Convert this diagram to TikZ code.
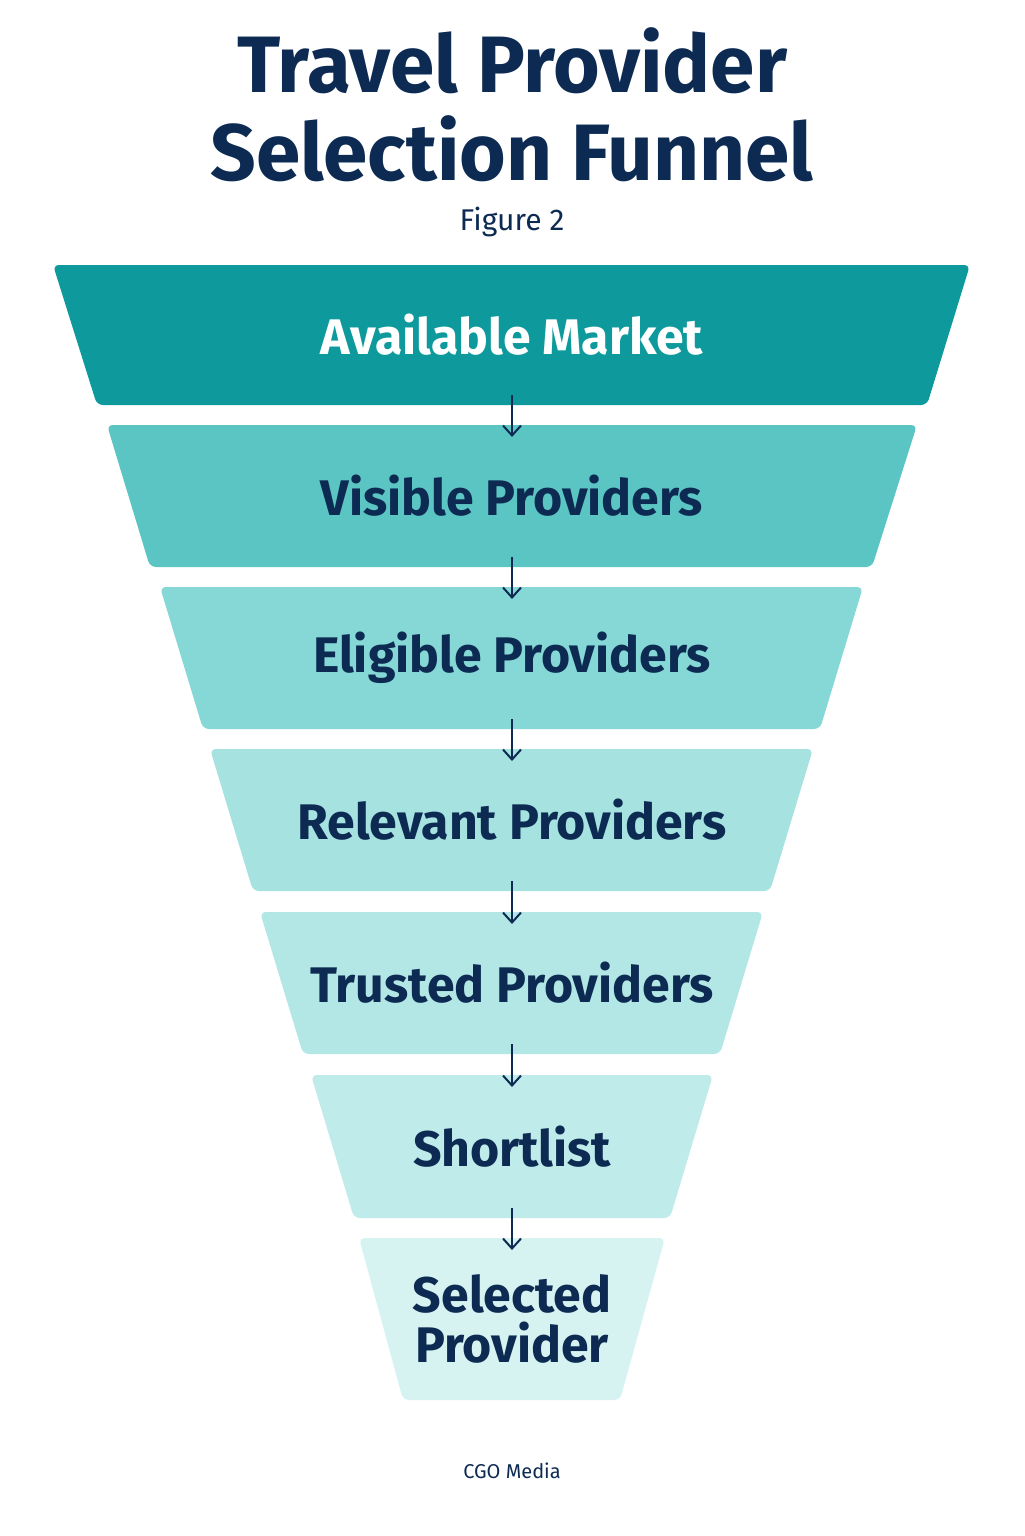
\documentclass[tikz,border=0pt]{standalone}
\usepackage{fontspec}
\setmainfont{Fira Sans}
\usetikzlibrary{arrows.meta}
\definecolor{navy}{HTML}{0D2B52}
\definecolor{tierA}{HTML}{0E9A9C}
\definecolor{tierB}{HTML}{5BC5C3}
\definecolor{tierC}{HTML}{85D8D6}
\definecolor{tierD}{HTML}{A5E2E0}
\definecolor{tierE}{HTML}{B2E7E5}
\definecolor{tierF}{HTML}{BFEBEA}
\definecolor{tierG}{HTML}{D6F3F2}
\tikzset{
  tier/.style={rounded corners=3pt},
  tierlabel/.style={font=\fontsize{25}{28}\selectfont\bfseries, text=navy, align=center},
  funnelarrow/.style={-{Straight Barb[length=5pt,width=9pt]}, draw=navy, line width=1pt}
}
\begin{document}
\begin{tikzpicture}[x=0.5pt,y=-0.5pt]
  \useasboundingbox (0,0) rectangle (1024,1536);

  % title
  \node[font=\fontsize{40}{44}\selectfont\bfseries, text=navy, align=center]
    (title) at (512,105) {Travel Provider\\Selection Funnel};
  \node[font=\fontsize{15}{18}\selectfont, text=navy]
    (figure) at (512,222) {Figure 2};

  % tiers: top y / bottom y / top left / top right / bottom left / bottom right / colour / name
  \foreach \t/\b/\tl/\tr/\bl/\br/\c/\n in {
      265/405/53/970/97/927/tierA/market,
      425/567/107/917/150/872/tierB/visible,
      587/729/160/863/203/820/tierC/eligible,
      749/891/210/813/253/770/tierD/relevant,
      912/1054/260/763/303/720/tierE/trusted,
      1075/1218/311/713/354/670/tierF/shortlist,
      1238/1400/359/665/403/620/tierG/selected}{
    \fill[tier, \c] (\tl,\t) -- (\tr,\t) -- (\br,\b) -- (\bl,\b) -- cycle;
    \coordinate (\n-top) at (512,\t);
    \coordinate (\n-bot) at (512,\b);
    \coordinate (\n) at (512,{(\t+\b)/2});
  }

  \node[tierlabel, text=white] (marketlabel) at (market) {Available Market};
  \node[tierlabel] (visiblelabel) at (visible) {Visible Providers};
  \node[tierlabel] (eligiblelabel) at (eligible) {Eligible Providers};
  \node[tierlabel] (relevantlabel) at (relevant) {Relevant Providers};
  \node[tierlabel] (trustedlabel) at (trusted) {Trusted Providers};
  \node[tierlabel] (shortlistlabel) at (shortlist) {Shortlist};
  \node[tierlabel, font=\fontsize{25}{25}\selectfont\bfseries] (selectedlabel) at (selected) {Selected\\Provider};

  % arrows between tiers
  \foreach \a/\b in {market/visible, visible/eligible, eligible/relevant,
                     relevant/trusted, trusted/shortlist, shortlist/selected}{
    \draw[funnelarrow] ([yshift=5pt]\a-bot) -- ([yshift=-6pt]\b-top);
  }

  \node[font=\fontsize{10}{12}\selectfont, text=navy] (credit) at (512,1471) {CGO Media};
\end{tikzpicture}
\end{document}
